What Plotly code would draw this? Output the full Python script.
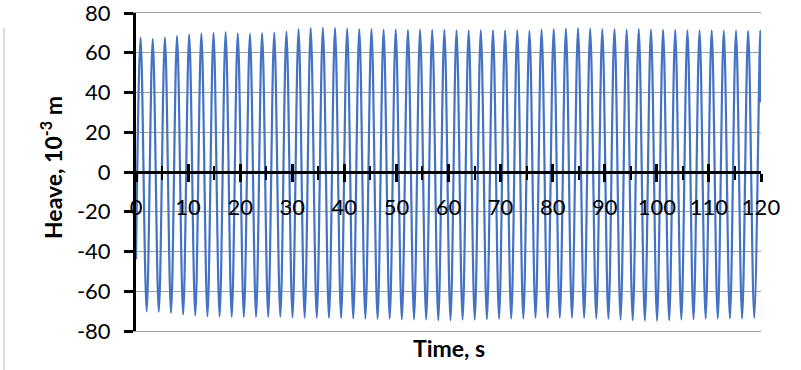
import plotly.graph_objects as go

# ---- data ----
start_time = 0.0
start_val = -44.0
end_time = 120.0
end_val = 35.0

peak_times = [0.88, 3.21, 5.55, 7.88, 10.21, 12.55, 14.88, 17.21, 19.54, 21.88,
              24.21, 26.54, 28.88, 31.21, 33.54, 35.88, 38.21, 40.54, 42.87, 45.21,
              47.54, 49.87, 52.21, 54.54, 56.87, 59.21, 61.54, 63.87, 66.20, 68.54,
              70.87, 73.20, 75.54, 77.87, 80.20, 82.54, 84.87, 87.20, 89.53, 91.87,
              94.20, 96.53, 98.87, 101.20, 103.53, 105.87, 108.20, 110.53, 112.86, 115.20,
              117.53, 119.86]
peak_vals = [67.7, 67.0, 67.7, 68.5, 69.2, 69.7, 70.0, 70.4, 69.8, 69.6, 69.9,
             70.2, 70.7, 71.9, 72.4, 72.7, 72.5, 72.2, 71.9, 71.9, 71.7, 71.7, 71.5,
             71.7, 71.5, 71.5, 71.3, 71.3, 71.4, 71.3, 71.3, 71.4,
             71.0, 71.7, 71.9, 72.2, 72.4, 72.2, 71.9, 71.9, 71.7, 71.9, 71.7, 71.5,
             71.5, 71.3, 71.3, 71.3, 71.1, 71.1, 71.0, 71.1]

trough_times = [2.05, 4.38, 6.72, 9.05, 11.38, 13.72, 16.05, 18.38, 20.71, 23.05,
                25.38, 27.71, 30.05, 32.38, 34.71, 37.05, 39.38, 41.71, 44.04, 46.38,
                48.71, 51.04, 53.38, 55.71, 58.04, 60.38, 62.71, 65.04, 67.37, 69.71,
                72.04, 74.37, 76.71, 79.04, 81.37, 83.71, 86.04, 88.37, 90.70, 93.04,
                95.37, 97.70, 100.04, 102.37, 104.70, 107.04, 109.37, 111.70, 114.03, 116.37,
                118.70]
trough_vals = [-70.1, -70.4, -70.9, -71.7, -72.2, -72.6, -72.7, -72.9, -72.9, -72.9,
               -72.9, -72.9, -73.2, -73.4, -73.4, -73.5, -73.5, -73.7, -73.7, -73.9,
               -73.9, -74.2, -74.2, -74.2, -74.6, -74.6, -74.3, -74.3, -74.1, -73.9,
               -73.9, -73.7,
               -73.4, -73.4, -73.4, -73.4, -73.4, -73.8, -73.9, -74.3, -74.6, -74.8,
               -74.9, -74.6, -74.3, -74.1, -73.9, -73.8, -73.8, -73.6, -73.4]

x_ticks = list(range(0, 121, 10))
y_ticks = list(range(-80, 81, 20))

# interleave extremes in time order
t = [start_time]
v = [start_val]
for i in range(len(peak_times)):
    t.append(peak_times[i]); v.append(peak_vals[i])
    if i < len(trough_times):
        t.append(trough_times[i]); v.append(trough_vals[i])
t.append(end_time); v.append(end_val)

FONT = "Lato"
FS = 22
TFS = 23
GRID = "#a0a0a0"

fig = go.Figure()
fig.add_trace(go.Scatter(x=t, y=v, mode="lines",
                         line=dict(color="#4472C4", width=2.2, shape="spline", smoothing=1),
                         showlegend=False, hoverinfo="skip"))
# helper traces so the overlay axes are drawn
fig.add_trace(go.Scatter(x=[0, 120], y=[None, None], xaxis="x2", yaxis="y",
                         mode="lines", showlegend=False, hoverinfo="skip"))
fig.add_trace(go.Scatter(x=[0, 120], y=[None, None], xaxis="x3", yaxis="y",
                         mode="lines", showlegend=False, hoverinfo="skip"))

fig.update_layout(
    width=801, height=370,
    margin=dict(l=136, r=40, t=13, b=39),
    paper_bgcolor="white", plot_bgcolor="white",
    font=dict(family=FONT, size=FS, color="black"),
    # grey frame lines at -80 and 80 (gridlines at the plot edges)
    xaxis3=dict(range=[0, 120], overlaying="x", anchor="y", side="bottom",
                automargin=False, showticklabels=False, ticks="",
                showgrid=False, zeroline=False,
                showline=True, mirror=True, linecolor=GRID, linewidth=1,
                layer="below traces"),
    xaxis=dict(range=[0, 120], anchor="free", position=0.5, automargin=False,
               tickvals=x_ticks, ticktext=[str(x) for x in x_ticks],
               showgrid=False, zeroline=False,
               showline=True, linecolor="black", linewidth=3,
               ticks="outside", ticklen=8, tickwidth=3, tickcolor="black",
               minor=dict(dtick=5, tick0=0, ticks="outside", ticklen=6, tickwidth=2,
                          tickcolor="black", showgrid=False),
               tickfont=dict(family=FONT, size=FS, color="black"),
               ticklabelstandoff=7),
    xaxis2=dict(range=[0, 120], overlaying="x", anchor="free", position=0.5,
                automargin=False,
                tickvals=x_ticks, showticklabels=False,
                showgrid=False, zeroline=False, showline=False,
                ticks="inside", ticklen=8, tickwidth=3, tickcolor="black",
                minor=dict(dtick=5, tick0=0, ticks="inside", ticklen=6, tickwidth=2,
                           tickcolor="black", showgrid=False)),
    yaxis=dict(range=[-80, 80], automargin=False,
               tickvals=y_ticks, ticktext=[str(y) for y in y_ticks],
               showgrid=True, gridcolor=GRID, gridwidth=1,
               zeroline=False, showline=True, linecolor="black", linewidth=3,
               ticks="outside", ticklen=9, tickwidth=3, tickcolor="black",
               tickfont=dict(family=FONT, size=FS, color="black"),
               ticklabeloverflow="allow",
               ticklabelstandoff=9),
)

fig.add_annotation(text="<b>Time, s</b>", xref="paper", yref="paper",
                   x=0.5, y=-0.0535, xanchor="center", yanchor="middle",
                   showarrow=False, font=dict(family=FONT, size=TFS, color="black"))
fig.add_annotation(text="<b>Heave, 10<sup>-3</sup> m</b>", xref="paper", yref="paper",
                   x=-0.1344, y=0.5126, xanchor="center", yanchor="middle",
                   textangle=-90, showarrow=False,
                   font=dict(family=FONT, size=TFS, color="black"))
fig.add_shape(type="line", xref="paper", yref="paper",
              x0=-0.2112, x1=-0.2112, y0=-0.1226, y1=0.9528,
              line=dict(color="#bdbdbd", width=1))

fig.write_html("out.html",
               config={"displayModeBar": False},
               post_script="document.body.style.margin='0';document.body.style.padding='0';")
